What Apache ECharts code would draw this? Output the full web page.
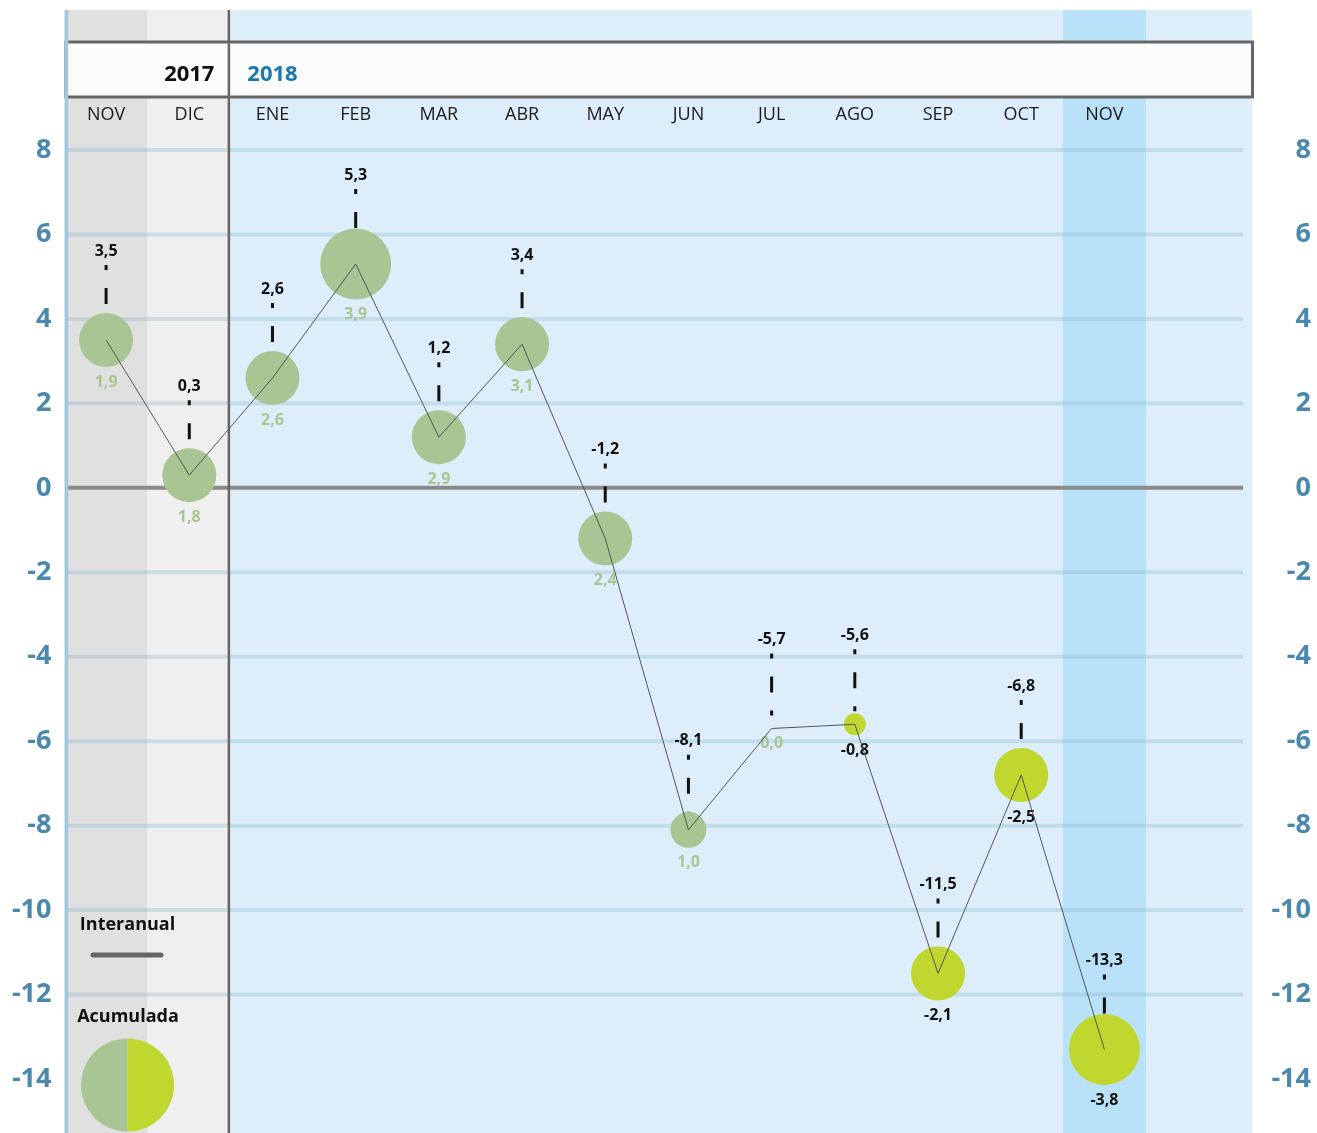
<!DOCTYPE html>
<html>
<head>
<meta charset="utf-8">
<script src="https://cdn.jsdelivr.net/npm/echarts@6/dist/echarts.min.js"></script>
<style>
html,body{margin:0;padding:0;background:#ffffff;}
#c{width:1317px;height:1133px;}
</style>
</head>
<body>
<div id="c"></div>
<script>
// ---- data ----
const months = ['NOV','DIC','ENE','FEB','MAR','ABR','MAY','JUN','JUL','AGO','SEP','OCT','NOV'];
const years = ['2017','2018'];
const interanual = [3.5, 0.3, 2.6, 5.3, 1.2, 3.4, -1.2, -8.1, -5.7, -5.6, -11.5, -6.8, -13.3];
const acumulada = [1.9, 1.8, 2.6, 3.9, 2.9, 3.1, 2.4, 1.0, 0.0, -0.8, -2.1, -2.5, -3.8];
const yTicks = [8, 6, 4, 2, 0, -2, -4, -6, -8, -10, -12, -14];
const legendLabels = ['Interanual', 'Acumulada'];

// ---- style ----
const FONT = '"Open Sans", "Noto Sans", sans-serif';
const GREEN = '#a9c594';
const LIME = '#c0d72f';
const AXISBLUE = '#4a89ad';
const fmt = v => v.toFixed(1).replace('.', ',');
function bubbleSize(a) {
  const m = Math.abs(a);
  if (m < 0.05) return 0;
  if (m < 0.9) return 22;
  if (m < 1.5) return 36;
  if (m < 3.5) return 54;
  return 71;
}
const yMin = Math.min(...yTicks), yMax = Math.max(...yTicks);

const chart = echarts.init(document.getElementById('c'), null, {renderer: 'canvas'});

const bgSeries = {
  type: 'custom',
  z: 0,
  clip: false,
  silent: true,
  data: [[0, 0]],
  renderItem: function (params, api) {
    const bw = api.size([1, 0])[0];
    const x0 = api.coord([0, 0])[0] - bw / 2;
    const x1 = x0 + bw;
    const x2 = x0 + 2 * bw;
    const last = months.length - 1;
    const xl = api.coord([last, 0])[0] - bw / 2;
    const top = 10, bot = 1133, right = 1252;
    const ch = [];
    ch.push({type: 'rect', shape: {x: x0, y: top, width: x1 - x0, height: bot - top}, style: {fill: '#e0e0e0'}});
    ch.push({type: 'rect', shape: {x: x1, y: top, width: x2 - x1, height: bot - top}, style: {fill: '#efefef'}});
    ch.push({type: 'rect', shape: {x: x2, y: top, width: right - x2, height: bot - top}, style: {fill: '#ddeefa'}});
    ch.push({type: 'rect', shape: {x: xl, y: top, width: bw, height: bot - top}, style: {fill: '#b9e1f7'}});
    yTicks.forEach(v => {
      if (v === 0 || v === yMin) return;
      const y = api.coord([0, v])[1];
      ch.push({type: 'line', shape: {x1: x0 + 3, y1: y, x2: 1243, y2: y}, style: {stroke: 'rgba(130,180,200,0.3)', lineWidth: 4}});
    });
    const y0 = api.coord([0, 0])[1];
    ch.push({type: 'line', shape: {x1: x0 + 3, y1: y0, x2: 1243, y2: y0}, style: {stroke: '#8a8a8a', lineWidth: 4}});
    // header box
    ch.push({type: 'rect', shape: {x: x0 + 1.5, y: 42, width: right - x0 - 1, height: 55}, style: {fill: '#fcfcfc', stroke: '#666', lineWidth: 3}});
    // year separator
    ch.push({type: 'line', shape: {x1: x2 - 2, y1: top, x2: x2 - 2, y2: bot}, style: {stroke: '#666', lineWidth: 2.5}});
    // left edge
    ch.push({type: 'line', shape: {x1: x0 + 2, y1: top, x2: x0 + 2, y2: bot}, style: {stroke: '#9dcadf', lineWidth: 3.5}});
    // years
    ch.push({type: 'text', style: {text: years[0], x: api.coord([1, 0])[0], y: 75, fill: '#111', font: 'bold 22px ' + FONT, textAlign: 'center', textVerticalAlign: 'middle', align: 'center', verticalAlign: 'middle'}});
    ch.push({type: 'text', style: {text: years[1], x: api.coord([2, 0])[0], y: 75, fill: '#1a78b0', font: 'bold 22px ' + FONT, textAlign: 'center', textVerticalAlign: 'middle', align: 'center', verticalAlign: 'middle'}});
    return {type: 'group', children: ch};
  }
};

const dashSeries = {
  type: 'custom',
  z: 3,
  clip: false,
  silent: true,
  data: interanual.map((v, i) => [i, v]),
  renderItem: function (params, api) {
    const p = api.coord([api.value(0), api.value(1)]);
    return {
      type: 'group',
      children: [
        {type: 'line', shape: {x1: p[0], y1: p[1] - 75, x2: p[0], y2: p[1] - 12}, style: {stroke: '#111', lineWidth: 3, lineDash: [5, 18, 16, 18]}},
        {type: 'text', style: {text: fmt(api.value(1)), x: p[0], y: p[1] - 89, fill: '#111', font: 'bold 16px ' + FONT, textAlign: 'center', textVerticalAlign: 'middle', align: 'center', verticalAlign: 'middle'}}
      ]
    };
  }
};

const bubbleSeries = {
  type: 'scatter',
  z: 4,
  silent: true,
  data: interanual.map((v, i) => ({
    value: [i, v],
    symbolSize: bubbleSize(acumulada[i]),
    itemStyle: {color: acumulada[i] >= 0 ? GREEN : LIME, opacity: 1},
    label: {color: acumulada[i] >= 0 ? GREEN : '#111'}
  })),
  label: {
    show: true,
    position: 'bottom',
    distance: 7,
    formatter: p => fmt(acumulada[p.dataIndex]),
    fontFamily: FONT,
    fontWeight: 'bold',
    fontSize: 16
  },
  emphasis: {disabled: true}
};

const lineSeries = {
  type: 'line',
  z: 5,
  silent: true,
  data: interanual,
  symbol: 'none',
  lineStyle: {color: '#555', width: 1},
  emphasis: {disabled: true}
};

const yAxisBase = {
  type: 'value',
  min: yMin,
  max: yMax,
  interval: 2,
  z: 10,
  axisLine: {show: false},
  axisTick: {show: false},
  splitLine: {show: false}
};

const option = {
  animation: false,
  backgroundColor: '#ffffff',
  grid: {left: 64.5, right: 171, top: 150, bottom: 54, containLabel: false, outerBoundsMode: 'none'},
  xAxis: {
    type: 'category',
    data: months,
    position: 'top',
    boundaryGap: true,
    z: 10,
    axisLine: {show: false},
    axisTick: {show: false},
    splitLine: {show: false},
    axisLabel: {margin: 26, fontSize: 18, color: '#1a1a1a', fontFamily: FONT, interval: 0}
  },
  yAxis: [
    Object.assign({}, yAxisBase, {position: 'left', axisLabel: {margin: 13, fontSize: 27, fontWeight: 'bold', color: AXISBLUE, fontFamily: FONT}}),
    Object.assign({}, yAxisBase, {position: 'right', axisLabel: {margin: 165, align: 'right', fontSize: 27, fontWeight: 'bold', color: AXISBLUE, fontFamily: FONT}})
  ],
  series: [bgSeries, dashSeries, bubbleSeries, lineSeries],
  graphic: [
    {type: 'text', z: 20, x: 127.5, y: 925, style: {text: legendLabels[0], font: 'bold 18px ' + FONT, fill: '#111', textAlign: 'center', textVerticalAlign: 'middle', align: 'center', verticalAlign: 'middle'}},
    {type: 'line', z: 20, shape: {x1: 93, y1: 955, x2: 161, y2: 955}, style: {stroke: '#666', lineWidth: 5, lineCap: 'round'}},
    {type: 'text', z: 20, x: 128, y: 1017, style: {text: legendLabels[1], font: 'bold 18px ' + FONT, fill: '#111', textAlign: 'center', textVerticalAlign: 'middle', align: 'center', verticalAlign: 'middle'}},
    {type: 'sector', z: 20, shape: {cx: 127.5, cy: 1085, r0: 0, r: 46.5, startAngle: Math.PI / 2, endAngle: Math.PI * 3 / 2, clockwise: true}, style: {fill: GREEN}},
    {type: 'sector', z: 20, shape: {cx: 127.5, cy: 1085, r0: 0, r: 46.5, startAngle: -Math.PI / 2, endAngle: Math.PI / 2, clockwise: true}, style: {fill: LIME}}
  ]
};

chart.setOption(option);
</script>
</body>
</html>
